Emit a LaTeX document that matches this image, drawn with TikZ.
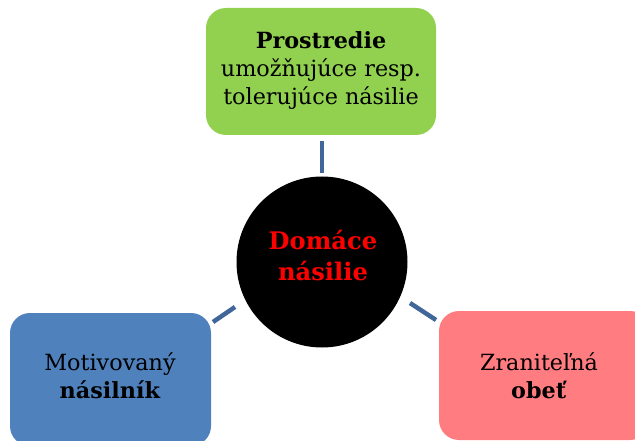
\documentclass[tikz,border=0pt]{standalone}
\usepackage{fontspec}
\setmainfont{DejaVu Serif}
\definecolor{gboxc}{HTML}{92D050}
\definecolor{bboxc}{HTML}{4F81BD}
\definecolor{rboxc}{HTML}{FF7C80}
\definecolor{linkc}{HTML}{41669A}
\definecolor{redtxt}{HTML}{FF0000}
\begin{document}
\begin{tikzpicture}[x=1pt,y=-1pt,
  boxst/.style={rounded corners=20pt, draw=none},
  txt/.style={align=center, font=\fontsize{22.3}{28}\selectfont, inner sep=0pt},
  link/.style={draw=linkc, line width=4.5pt}]
\useasboundingbox (0,0) rectangle (635,441);
\clip (0,0) rectangle (635,441);
\fill[boxst, fill=gboxc] (206,8) rectangle (436,135);
\fill[boxst, fill=bboxc] (10,313) rectangle (211,446);
\fill[boxst, fill=rboxc] (439,311) rectangle (650,440);
\node[circle, fill=black, minimum size=171pt, inner sep=0pt] (c) at (322,262) {};
\node[txt] (g) at (321,71) {\textbf{Prostredie}\\umožňujúce resp.\\tolerujúce násilie};
\node[txt] (b) at (110,376) {Motivovaný\\\textbf{násilník}};
\node[txt] (r) at (539,376) {Zraniteľná\\\textbf{obeť}};
\node[txt, text=redtxt, font=\bfseries\fontsize{24.2}{31}\selectfont] (ct) at (323,255) {Domáce\\násilie};
\coordinate (g1) at (322,141);
\coordinate (g2) at (322,173);
\coordinate (b1) at (213,322);
\coordinate (b2) at (235,307);
\coordinate (r1) at (410,303);
\coordinate (r2) at (436,320);
\draw[link] (g1) -- (g2);
\draw[link] (b1) -- (b2);
\draw[link] (r1) -- (r2);
\end{tikzpicture}
\end{document}
